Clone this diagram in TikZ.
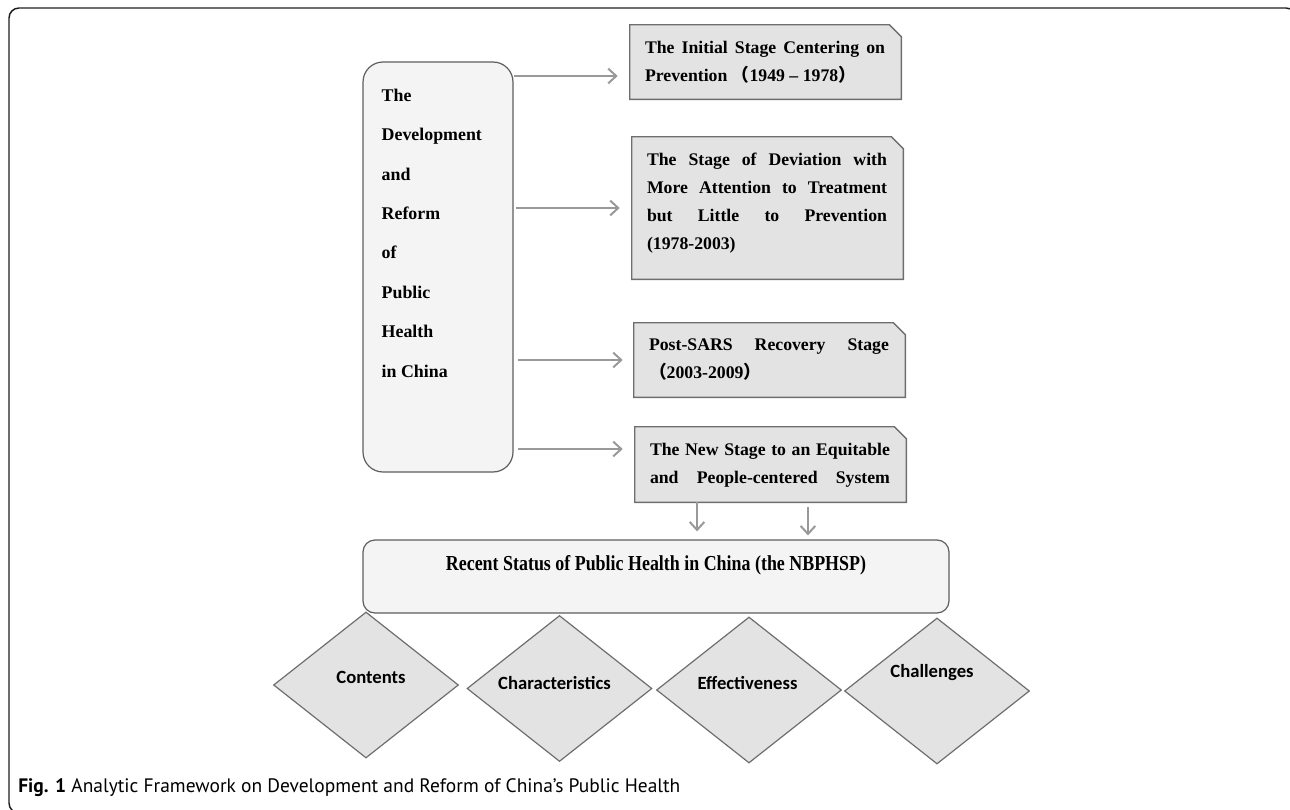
\documentclass[tikz,border=0pt]{standalone}
\usepackage{fontspec}
\setmainfont{Liberation Serif}
\newfontfamily\cjkfont{Noto Sans CJK SC}
\newfontfamily\condfont[FakeStretch=0.84]{Liberation Serif}
\newfontfamily\calfont{Carlito}
\newfontfamily\capfont{PT Sans}
\usetikzlibrary{positioning, shapes.geometric, arrows.meta}

\definecolor{arrowgray}{HTML}{999999}
\definecolor{stagefill}{HTML}{E3E3E3}
\definecolor{stageedge}{HTML}{6E6E6E}
\definecolor{devfill}{HTML}{F4F4F4}
\definecolor{devedge}{HTML}{5E5E5E}
\definecolor{framecol}{HTML}{1E1E1E}

\def\px{0.75pt}
\newcommand{\fullline}[1]{\makebox[180pt][s]{#1}}
\newcommand{\lpar}{{\cjkfont （}}
\newcommand{\rpar}{{\cjkfont ）}}

\begin{document}
\begin{tikzpicture}[x=0.75pt, y=-0.75pt,
  >={Straight Barb[length=6pt, width=11pt]},
  arr/.style={->, draw=arrowgray, line width=1.5pt},
  devbox/.style={draw=devedge, fill=devfill, line width=0.9pt, rounded corners=15pt,
    minimum width=150*\px, minimum height=410*\px, inner sep=0pt},
  devtext/.style={anchor=north west, inner sep=0pt, align=left,
    font=\fontsize{13.4}{29.6}\selectfont\bfseries},
  stagebox/.style={minimum width=271*\px, inner sep=0pt},
  stageframe/.style={draw=stageedge, fill=stagefill, line width=1.1pt},
  stagetext/.style={anchor=north west, inner sep=0pt, align=left,
    font=\fontsize{13.3}{21}\selectfont\bfseries},
  recbox/.style={draw=devedge, fill=devfill, line width=0.9pt, rounded corners=9pt,
    minimum width=586*\px, minimum height=73*\px, inner sep=0pt},
  rectext/.style={inner sep=0pt, font=\condfont\bfseries\fontsize{16}{18}\selectfont},
  diam/.style={diamond, draw=stageedge, fill=stagefill, line width=0.9pt,
    minimum width=185*\px, minimum height=146*\px, inner sep=0pt},
  dlabel/.style={inner sep=0pt, font=\calfont\bfseries\fontsize{14}{16}\selectfont}]

% Manually size the picture
\useasboundingbox (0, 0) rectangle (1290, 810);

% Outer frame, cut off at the right and bottom edge
\begin{scope}
\clip (0, 0) rectangle (1290, 810);
\draw[draw=framecol, line width=1.1pt, rounded corners=7.5pt] (9, 8) rectangle (1296, 813);
\end{scope}

% Left box
\node[devbox] (dev) at (438, 267) {};
\node[devtext] (devlabel) at ([shift={(19, 27)}]dev.north west)
  {The\\Development\\and\\Reform\\of\\Public\\Health\\in China};

% Stage boxes
\node[stagebox, minimum height=74*\px] (s1) at (765.5, 62) {};
\node[stagebox, minimum height=142*\px] (s2) at (767.5, 208) {};
\node[stagebox, minimum height=74*\px] (s3) at (769.5, 360) {};
\node[stagebox, minimum height=75*\px] (s4) at (770.5, 464.5) {};
\foreach \s in {s1, s2, s3, s4}
  \filldraw[stageframe] (\s.north west) -- ([xshift=-9pt]\s.north east)
    -- ([yshift=-9pt]\s.north east) -- (\s.south east) -- (\s.south west) -- cycle;

% Stage texts
\node[stagetext] (t1) at ([shift={(15, 16)}]s1.north west)
  {\fullline{The Initial Stage Centering on}\\Prevention \lpar 1949 – 1978\rpar};
\node[stagetext] (t2) at ([shift={(15, 16)}]s2.north west)
  {\fullline{The Stage of Deviation with}\\\fullline{More Attention to Treatment}\\
   \fullline{but Little to Prevention}\\(1978-2003)};
\node[stagetext] (t3) at ([shift={(15, 16)}]s3.north west)
  {\fullline{Post-SARS Recovery Stage}\\\lpar 2003-2009\rpar};
\node[stagetext] (t4) at ([shift={(15, 16)}]s4.north west)
  {\fullline{The New Stage to an Equitable}\\\fullline{and People-centered System}};

% Arrows to the stages
\coordinate (a1) at ([shift={(-12, 14)}]s1.west);
\coordinate (a2) at ([shift={(-12, 0)}]s2.west);
\coordinate (a3) at ([shift={(-11, 0)}]s3.west);
\coordinate (a4) at ([shift={(-12, -15.5)}]s4.west);
\draw[arr] (dev.east |- a1) -- (a1);
\draw[arr] ([xshift=1.5pt]dev.east |- a2) -- (a2);
\draw[arr] ([xshift=3.5pt]dev.east |- a3) -- (a3);
\draw[arr] ([xshift=3.5pt]dev.east |- a4) -- (a4);

% Recent status box
\node[recbox] (rec) at (656, 576.5) {};
\node[rectext] (rectitle) at ([shift={(0, -11.5)}]rec.center)
  {Recent Status of Public Health in China (the NBPHSP)};

% Arrows down to the recent status
\coordinate (b1) at ([xshift=-55.1pt]s4.south);
\coordinate (b2) at ([xshift=28.1pt]s4.south);
\draw[arr, shorten >=6pt] (b1) -- (b1 |- rec.north);
\draw[arr, shorten <=3.75pt, shorten >=3pt] (b2) -- (b2 |- rec.north);

% Diamonds
\node[diam] (d1) at (366, 685) {};
\node[diam] (d2) at (559.5, 688.5) {};
\node[diam] (d3) at (749, 690) {};
\node[diam] (d4) at (937, 691) {};
\node[dlabel] (l1) at ([shift={(5, -8)}]d1.center) {Contents};
\node[dlabel] (l2) at ([shift={(-5, -6)}]d2.center) {Characteristics};
\node[dlabel] (l3) at ([shift={(-1.5, -7)}]d3.center) {Effectiveness};
\node[dlabel] (l4) at ([shift={(-5, -18)}]d4.center) {Challenges};

% Caption
\node[anchor=west, inner sep=0pt, font=\capfont\fontsize{14.6}{17}\selectfont] (caption) at (18, 788)
  {\textbf{Fig. 1} Analytic Framework on Development and Reform of China’s Public Health};

\end{tikzpicture}
\end{document}
